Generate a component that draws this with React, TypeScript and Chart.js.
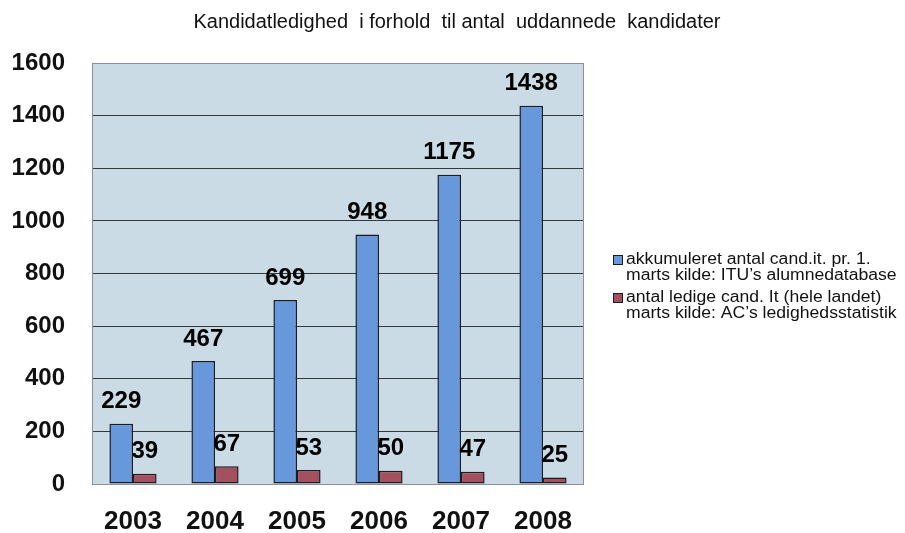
import React, { useEffect, useRef } from "react";
import { Chart, registerables } from "chart.js";

Chart.register(...registerables);

const TITLE = "Kandidatledighed  i forhold  til antal  uddannede  kandidater";
const YEARS = ["2003", "2004", "2005", "2006", "2007", "2008"];
const GRADUATES = [229, 467, 699, 948, 1175, 1438];
const UNEMPLOYED = [39, 67, 53, 50, 47, 25];
const GRADUATES_LABEL = ["akkumuleret antal cand.it. pr. 1.", "marts kilde: ITU’s alumnedatabase"];
const UNEMPLOYED_LABEL = ["antal ledige cand. It (hele landet)", "marts kilde: AC’s ledighedsstatistik"];
const Y_MIN = 0;
const Y_MAX = 1600;
const Y_STEP = 200;

const FONT = '"Liberation Sans", Arial, Helvetica, sans-serif';
const BLUE = "#6898dc";
const RED = "#a4505e";
const EDGE = "#1b1b24";
const PLOT_BG = "#cadbe6";

const decorPlugin = {
  id: "decor",
  beforeDraw(chart: any) {
    const { ctx, chartArea: a } = chart;
    ctx.save();
    ctx.fillStyle = "#ffffff";
    ctx.fillRect(0, 0, chart.width, chart.height);
    ctx.fillStyle = PLOT_BG;
    ctx.fillRect(a.left, a.top, a.right - a.left, a.bottom - a.top);
    ctx.restore();
  },
  afterDatasetsDraw(chart: any) {
    const { ctx, chartArea: a } = chart;
    ctx.save();
    ctx.strokeStyle = "#8a9198";
    ctx.lineWidth = 1;
    ctx.strokeRect(a.left + 0.5, a.top + 0.5, a.right - a.left - 1, a.bottom - a.top);
    ctx.font = `bold 24px ${FONT}`;
    ctx.fillStyle = "#000";
    ctx.textAlign = "center";
    ctx.textBaseline = "middle";
    chart.data.datasets.forEach((ds: any, i: number) => {
      const meta = chart.getDatasetMeta(i);
      meta.data.forEach((bar: any, j: number) => {
        ctx.fillText(String(ds.data[j]), bar.x, bar.y - 22);
      });
    });
    ctx.restore();
  },
  afterDraw(chart: any) {
    const { ctx } = chart;
    ctx.save();
    ctx.fillStyle = "#111";
    ctx.font = `20px ${FONT}`;
    ctx.textAlign = "center";
    ctx.textBaseline = "middle";
    ctx.fillText(TITLE, 457, 22);

    ctx.textAlign = "left";
    chart.data.datasets.forEach((ds: any, i: number) => {
      const y0 = 260 + i * 38;
      ctx.fillStyle = ds.backgroundColor;
      ctx.fillRect(613, y0 - 5, 10, 10);
      ctx.strokeStyle = EDGE;
      ctx.lineWidth = 1;
      ctx.strokeRect(613.5, y0 - 4.5, 9, 9);
      ctx.fillStyle = "#111";
      const lines: string[] = ds.label;
      lines.forEach((line, k) => {
        ctx.save();
        ctx.translate(626, y0 + k * 15.5);
        ctx.scale(1.1, 1);
        ctx.font = `16px ${FONT}`;
        ctx.fillText(line, 0, 0);
        ctx.restore();
      });
    });
    ctx.restore();
  },
};

export default function App() {
  const ref = useRef<HTMLCanvasElement | null>(null);
  useEffect(() => {
    if (!ref.current) return;
    const chart = new Chart(ref.current, {
      type: "bar",
      data: {
        labels: YEARS,
        datasets: [
          {
            label: GRADUATES_LABEL as any,
            data: GRADUATES,
            backgroundColor: BLUE,
            borderColor: EDGE,
            borderWidth: 1.5,
            borderSkipped: false,
            barPercentage: 1,
            categoryPercentage: 0.575,
          },
          {
            label: UNEMPLOYED_LABEL as any,
            data: UNEMPLOYED,
            backgroundColor: RED,
            borderColor: EDGE,
            borderWidth: 1.5,
            borderSkipped: false,
            barPercentage: 1,
            categoryPercentage: 0.575,
          },
        ],
      },
      options: {
        responsive: false,
        animation: false,
        layout: { padding: { left: 0, right: 321, top: 63, bottom: 0 } },
        plugins: {
          legend: { display: false },
          title: { display: false },
          tooltip: { enabled: false },
        },
        scales: {
          x: {
            grid: { display: false, drawTicks: false },
            border: { display: false },
            ticks: {
              color: "#111",
              font: { family: FONT, size: 26, weight: "bold" },
              padding: 22,
            },
            afterFit(s: any) {
              s.height = 49;
            },
          },
          y: {
            min: Y_MIN,
            max: Y_MAX,
            grid: { color: "#33383c", lineWidth: 1, drawTicks: false },
            border: { display: false },
            ticks: {
              stepSize: Y_STEP,
              color: "#111",
              font: { family: FONT, size: 24, weight: "bold" },
              padding: 27,
              callback: (v: any) => String(v),
            },
            afterFit(s: any) {
              s.width = 92;
            },
          },
        },
      },
      plugins: [decorPlugin],
    });
    return () => chart.destroy();
  }, []);
  return (
    <div style={{ position: "fixed", left: 0, top: 0, width: 905, height: 533, background: "#fff" }}>
      <canvas ref={ref} width={905} height={533} />
    </div>
  );
}
